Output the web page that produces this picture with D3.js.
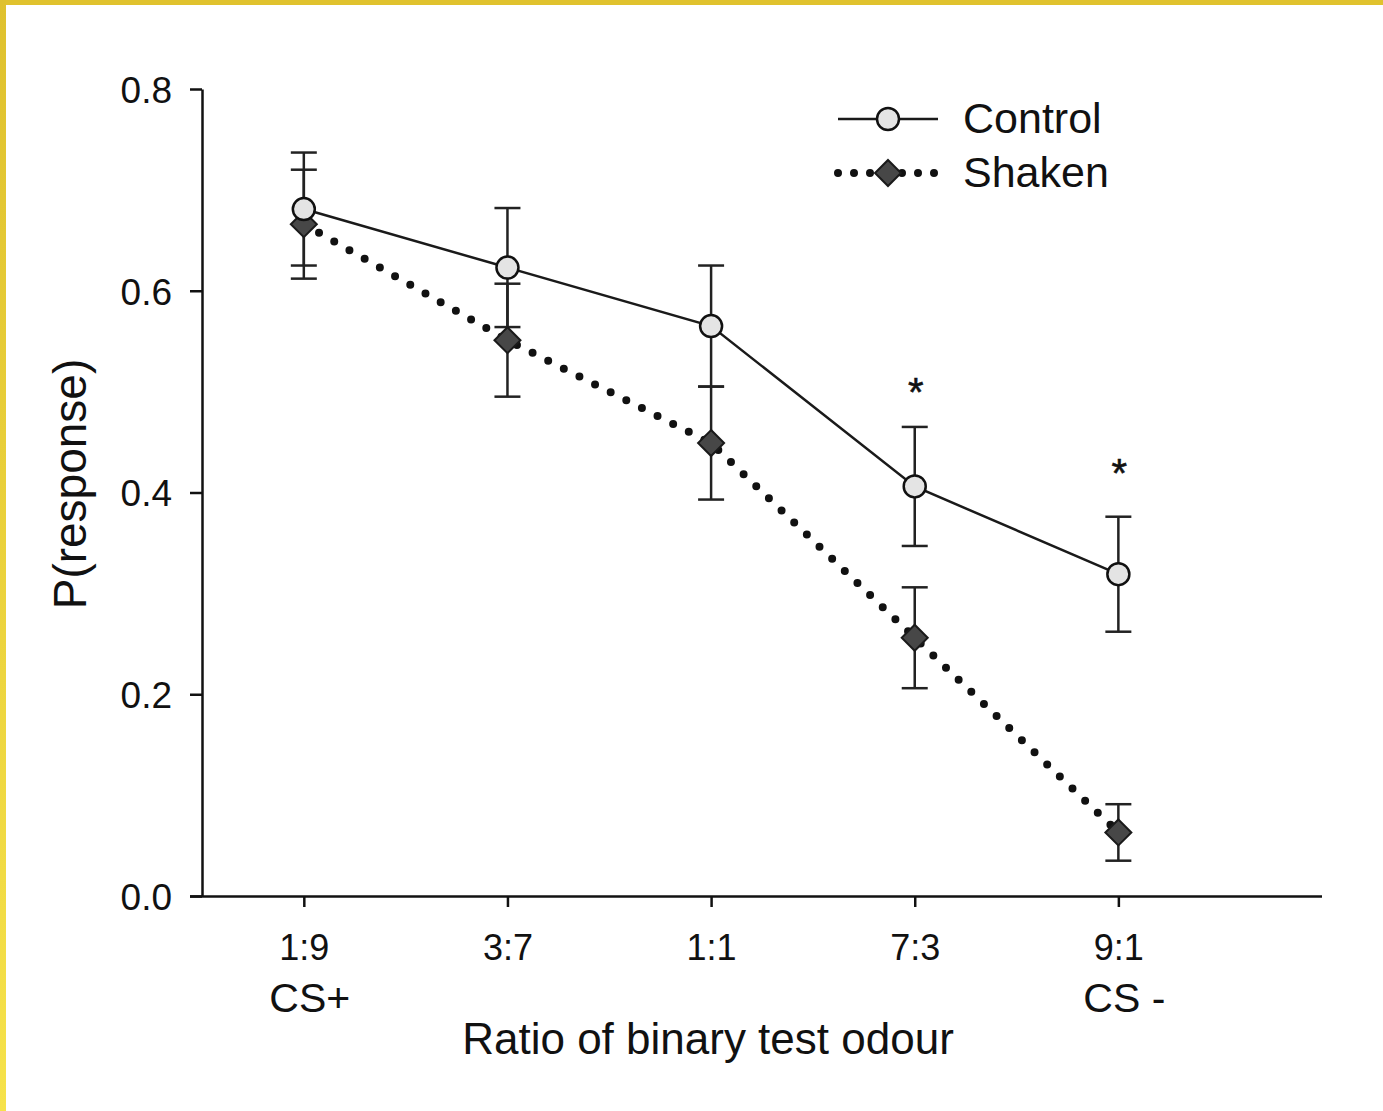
<!DOCTYPE html>
<html>
<head>
<meta charset="utf-8">
<script src="https://cdn.jsdelivr.net/npm/d3@7"></script>
<style>
  html, body { margin: 0; padding: 0; background: #fff; }
  svg { display: block; }
  text { font-family: "Liberation Sans", Arial, sans-serif; fill: #111; }
</style>
</head>
<body>
<svg id="chart" width="1383" height="1111"></svg>
<script>
// ---- data ----
const categories = ["1:9", "3:7", "1:1", "7:3", "9:1"];
const subLabels = ["CS+", "", "", "", "CS -"];
const controlMean = [0.681, 0.623, 0.565, 0.406, 0.319];
const controlErr  = [0.056, 0.059, 0.060, 0.059, 0.057];
const shakenMean  = [0.666, 0.551, 0.449, 0.256, 0.063];
const shakenErr   = [0.054, 0.056, 0.056, 0.050, 0.028];
const asteriskAt  = [null, null, null, 0.486, 0.405];
const yTicks = [0.0, 0.2, 0.4, 0.6, 0.8];

const svg = d3.select("#chart");
const W = 1383, H = 1111;

// background + yellow frame
const defs = svg.append("defs");
const lg = defs.append("linearGradient").attr("id", "lg").attr("x1", 0).attr("y1", 0).attr("x2", 0).attr("y2", 1);
lg.append("stop").attr("offset", "0%").attr("stop-color", "#dfc12e");
lg.append("stop").attr("offset", "100%").attr("stop-color", "#f6e24a");
svg.append("rect").attr("width", W).attr("height", H).attr("fill", "#fff");
svg.append("rect").attr("x", 0).attr("y", 0).attr("width", W).attr("height", 5).attr("fill", "#e0c22e");
svg.append("rect").attr("x", 0).attr("y", 0).attr("width", 6).attr("height", H).attr("fill", "url(#lg)");

// scales
const x = d3.scaleLinear().domain([-0.5, 5]).range([202, 1322]);
const y = d3.scaleLinear().domain([0, 0.8]).range([896, 89]);

// axes
const yAxis = svg.append("g").attr("transform", "translate(202,0)")
  .call(d3.axisLeft(y).tickValues(yTicks).tickFormat(d3.format(".1f")).tickSize(12).tickSizeOuter(0).tickPadding(18));
const xAxis = svg.append("g").attr("transform", "translate(0,896)")
  .call(d3.axisBottom(x).tickValues(d3.range(categories.length)).tickFormat(i => categories[i]).tickSize(11).tickSizeOuter(0));

[yAxis, xAxis].forEach(g => {
  g.select(".domain").attr("stroke", "#111").attr("stroke-width", 2.5);
  g.selectAll(".tick line").attr("stroke", "#111").attr("stroke-width", 2.5);
  g.selectAll("text").style("font-family", "'Liberation Sans', Arial, sans-serif").attr("fill", "#111");
});
yAxis.selectAll("text").attr("font-size", 37).attr("dy", "0.36em");
xAxis.selectAll("text").attr("font-size", 36).attr("y", 64).attr("dy", 0);
xAxis.select(".domain").attr("d", `M${190},0.5H${1322}`);

// sub labels (CS+ / CS -)
svg.append("g").selectAll("text").data(subLabels.map((t, i) => ({t, i})).filter(d => d.t))
  .join("text")
  .attr("x", d => x(d.i) + 6).attr("y", 1012)
  .attr("text-anchor", "middle").attr("font-size", 41)
  .text(d => d.t);

// axis titles
svg.append("text").attr("x", 708).attr("y", 1054).attr("text-anchor", "middle")
  .attr("font-size", 44).text("Ratio of binary test odour");
svg.append("text").attr("transform", "translate(86,484) rotate(-90)").attr("text-anchor", "middle")
  .attr("font-size", 46).text("P(response)");

// lines
const line = d3.line().x((d, i) => x(i)).y(d => y(d));
svg.append("path").datum(controlMean).attr("d", line)
  .attr("fill", "none").attr("stroke", "#1a1a1a").attr("stroke-width", 2.5);
svg.append("path").datum(shakenMean).attr("d", line)
  .attr("fill", "none").attr("stroke", "#111").attr("stroke-width", 8)
  .attr("stroke-linecap", "round").attr("stroke-dasharray", "0 17.5");

// error bars
function errorBars(means, errs) {
  const g = svg.append("g").attr("stroke", "#222").attr("stroke-width", 2.5);
  means.forEach((m, i) => {
    const cx = x(i);
    g.append("line").attr("x1", cx).attr("x2", cx).attr("y1", y(m + errs[i])).attr("y2", y(m - errs[i]));
    [m + errs[i], m - errs[i]].forEach(v => {
      g.append("line").attr("x1", cx - 13).attr("x2", cx + 13).attr("y1", y(v)).attr("y2", y(v));
    });
  });
}
errorBars(controlMean, controlErr);
errorBars(shakenMean, shakenErr);

// markers
const diamond = "M0,-13L13,0L0,13L-13,0Z";
svg.append("g").selectAll("path").data(shakenMean).join("path")
  .attr("transform", (d, i) => `translate(${x(i)},${y(d)})`)
  .attr("d", diamond).attr("fill", "#474747").attr("stroke", "#1a1a1a").attr("stroke-width", 2);
svg.append("g").selectAll("circle").data(controlMean).join("circle")
  .attr("cx", (d, i) => x(i)).attr("cy", d => y(d)).attr("r", 11)
  .attr("fill", "#e4e4e4").attr("stroke", "#111").attr("stroke-width", 2.5);

// significance asterisks
svg.append("g").selectAll("text").data(asteriskAt.map((v, i) => ({v, i})).filter(d => d.v !== null))
  .join("text")
  .attr("x", d => x(d.i) + 1).attr("y", d => y(d.v))
  .attr("text-anchor", "middle").attr("font-size", 40)
  .attr("stroke", "#111").attr("stroke-width", 0.6)
  .text("*");

// legend
const leg = svg.append("g");
leg.append("line").attr("x1", 838).attr("x2", 938).attr("y1", 119).attr("y2", 119)
  .attr("stroke", "#1a1a1a").attr("stroke-width", 2.5);
leg.append("circle").attr("cx", 888).attr("cy", 119).attr("r", 11)
  .attr("fill", "#e4e4e4").attr("stroke", "#111").attr("stroke-width", 2.5);
leg.append("text").attr("x", 963).attr("y", 133).attr("font-size", 43).text("Control");
leg.append("line").attr("x1", 838).attr("x2", 938).attr("y1", 173).attr("y2", 173)
  .attr("stroke", "#111").attr("stroke-width", 8).attr("stroke-linecap", "round").attr("stroke-dasharray", "0 16");
leg.append("path").attr("transform", "translate(888,173)").attr("d", diamond)
  .attr("fill", "#474747").attr("stroke", "#1a1a1a").attr("stroke-width", 2);
leg.append("text").attr("x", 963).attr("y", 187).attr("font-size", 43).text("Shaken");
</script>
</body>
</html>
